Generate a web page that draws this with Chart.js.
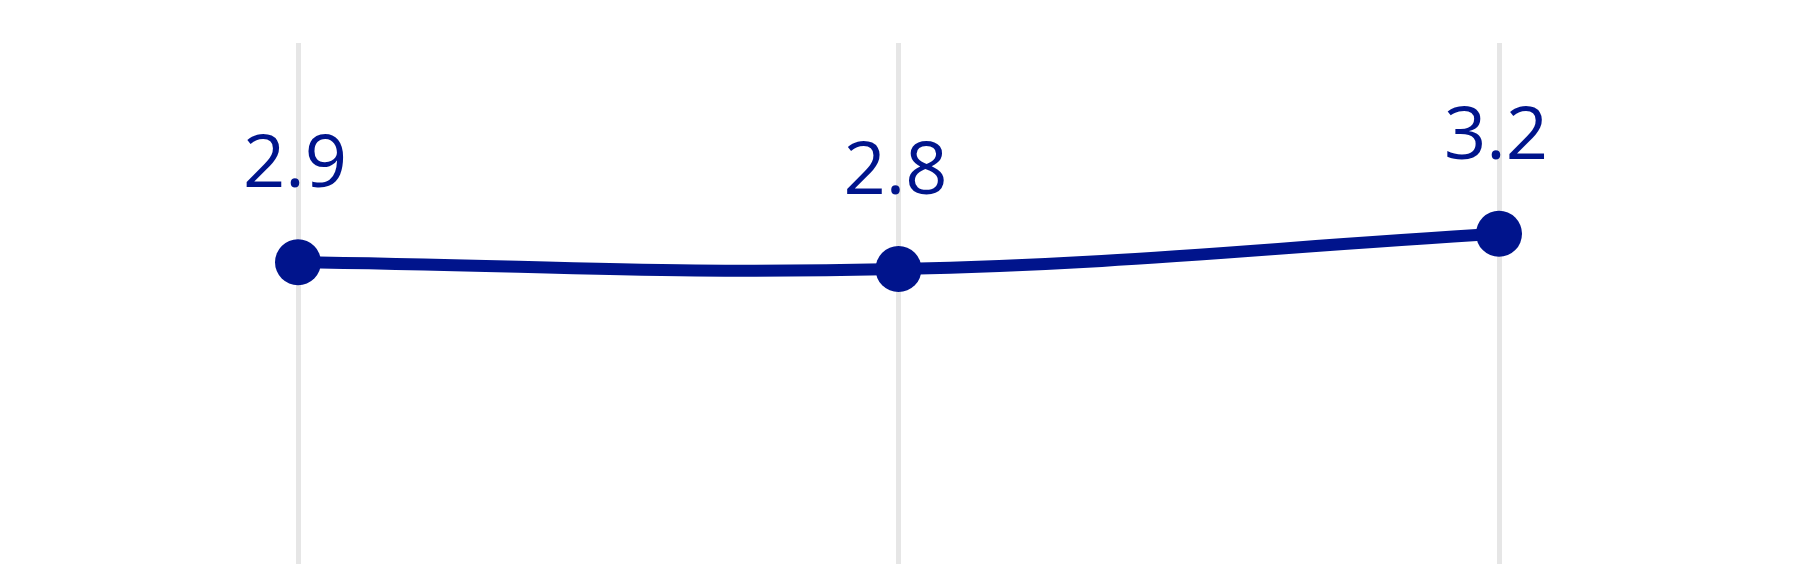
<!DOCTYPE html>
<html>
<head>
<meta charset="utf-8">
<script src="https://cdn.jsdelivr.net/npm/chart.js@4/dist/chart.umd.min.js"></script>
<style>
  html, body { margin: 0; padding: 0; background: #fff; }
  #wrap { width: 1800px; height: 564px; position: relative; }
</style>
</head>
<body>
<div id="wrap"><canvas id="lineChart"></canvas></div>
<script>
const categories = ['A', 'B', 'C'];
const values = [2.88, 2.80, 3.21];

const mainBlue = '#00148c';

// draws the value above each point
const valueLabels = {
  id: 'valueLabels',
  afterDatasetsDraw(chart) {
    const ctx = chart.ctx;
    const meta = chart.getDatasetMeta(0);
    ctx.save();
    ctx.fillStyle = mainBlue;
    ctx.font = '500 74px "Open Sans", sans-serif';
    ctx.textAlign = 'center';
    ctx.textBaseline = 'alphabetic';
    meta.data.forEach((pt, i) => {
      ctx.fillText(values[i].toFixed(1), pt.x - 3, pt.y - 75);
    });
    ctx.restore();
  }
};

new Chart(document.getElementById('lineChart'), {
  type: 'line',
  data: {
    labels: categories,
    datasets: [{
      data: values,
      borderColor: mainBlue,
      backgroundColor: mainBlue,
      borderWidth: 12,
      tension: 0.4,
      pointRadius: 23,
      pointBackgroundColor: mainBlue,
      pointBorderWidth: 0,
      fill: false
    }]
  },
  options: {
    responsive: true,
    maintainAspectRatio: false,
    animation: false,
    layout: {
      autoPadding: false,
      padding: { left: 298, right: 301, top: 43, bottom: 0 }
    },
    plugins: {
      legend: { display: false },
      tooltip: { enabled: false }
    },
    scales: {
      x: {
        offset: false,
        ticks: { display: false },
        border: { display: false },
        grid: { color: '#e6e6e6', lineWidth: 5, drawTicks: false },
        afterFit(scale) { scale.height = 0; }
      },
      y: {
        display: false,
        min: -0.63,
        max: 5.43
      }
    }
  },
  plugins: [valueLabels]
});
</script>
</body>
</html>
